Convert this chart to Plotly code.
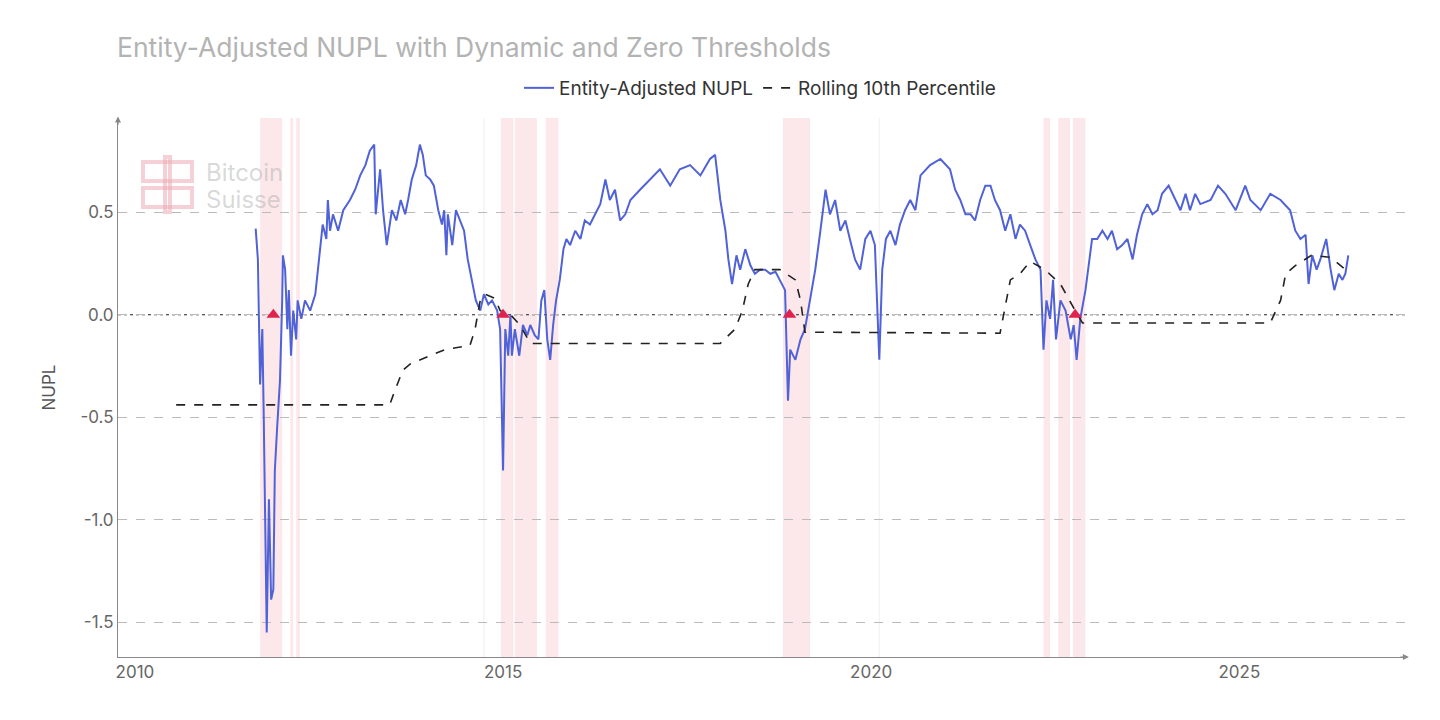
import plotly.graph_objects as go

# NUPL readings: year offset from 2010, value
nupl_off = [1.64,1.67,1.70,1.73,1.75,1.78,1.79,1.82,1.85,1.88,1.90,1.93,1.97,2.00,2.01,2.04,2.07,2.09,2.12,2.15,2.19,2.21,2.26,2.31,2.38,2.45,2.51,2.55,2.60,2.62,2.65,2.69,2.76,2.83,2.92,2.99,3.06,3.13,3.19,3.25,3.27,3.30,3.33,3.37,3.42,3.49,3.55,3.61,3.67,3.71,3.76,3.82,3.87,3.91,3.95,4.01,4.06,4.12,4.17,4.20,4.23,4.25,4.31,4.36,4.42,4.47,4.52,4.58,4.63,4.69,4.74,4.80,4.85,4.92,4.96,5.00,5.03,5.07,5.10,5.12,5.16,5.22,5.27,5.33,5.37,5.43,5.48,5.52,5.56,5.60,5.64,5.68,5.72,5.77,5.82,5.86,5.91,5.98,6.05,6.11,6.18,6.25,6.32,6.39,6.45,6.52,6.59,6.66,6.73,6.86,7.00,7.13,7.27,7.40,7.54,7.68,7.81,7.88,7.95,8.02,8.06,8.11,8.17,8.22,8.29,8.36,8.42,8.49,8.56,8.63,8.70,8.76,8.83,8.87,8.90,8.97,9.04,9.10,9.17,9.24,9.31,9.38,9.44,9.51,9.58,9.65,9.71,9.78,9.85,9.92,9.99,10.05,10.11,10.15,10.20,10.26,10.33,10.39,10.46,10.53,10.60,10.67,10.80,10.94,11.07,11.14,11.21,11.28,11.35,11.41,11.48,11.55,11.62,11.68,11.75,11.82,11.89,11.96,12.02,12.09,12.16,12.23,12.30,12.34,12.38,12.43,12.47,12.51,12.57,12.64,12.71,12.75,12.79,12.84,12.91,12.95,13.00,13.07,13.14,13.21,13.27,13.34,13.41,13.48,13.55,13.61,13.68,13.75,13.82,13.89,13.95,14.04,14.13,14.20,14.27,14.33,14.40,14.47,14.61,14.71,14.81,14.95,15.08,15.15,15.29,15.42,15.56,15.69,15.76,15.83,15.90,15.94,15.99,16.05,16.10,16.18,16.24,16.29,16.35,16.40,16.44,16.48]
nupl_val = [0.42,0.27,-0.34,-0.07,-0.51,-1.20,-1.55,-0.90,-1.39,-1.34,-0.76,-0.56,-0.32,0.07,0.29,0.22,-0.07,0.12,-0.20,0.02,-0.12,0.07,-0.02,0.07,0.02,0.10,0.32,0.44,0.37,0.56,0.41,0.49,0.41,0.51,0.56,0.61,0.68,0.73,0.80,0.83,0.49,0.61,0.71,0.51,0.34,0.51,0.46,0.56,0.49,0.56,0.66,0.73,0.83,0.78,0.68,0.66,0.63,0.51,0.44,0.51,0.29,0.49,0.34,0.51,0.46,0.41,0.27,0.15,0.07,0.02,0.10,0.05,0.07,0.02,-0.07,-0.76,-0.07,-0.20,0.00,-0.20,-0.07,-0.20,-0.05,-0.10,-0.05,-0.10,-0.12,0.07,0.12,-0.12,-0.22,-0.05,0.07,0.17,0.32,0.37,0.34,0.41,0.37,0.46,0.44,0.49,0.54,0.66,0.56,0.61,0.46,0.49,0.56,0.61,0.66,0.71,0.63,0.71,0.73,0.68,0.76,0.78,0.56,0.41,0.27,0.15,0.29,0.22,0.32,0.24,0.20,0.22,0.22,0.20,0.21,0.17,0.12,-0.42,-0.17,-0.22,-0.12,-0.07,0.07,0.22,0.41,0.61,0.49,0.56,0.41,0.46,0.37,0.27,0.22,0.37,0.41,0.34,-0.22,0.22,0.37,0.41,0.34,0.44,0.51,0.56,0.51,0.68,0.73,0.76,0.71,0.61,0.56,0.49,0.49,0.46,0.56,0.63,0.63,0.56,0.51,0.41,0.49,0.37,0.44,0.41,0.34,0.27,0.22,-0.17,0.07,-0.02,0.17,-0.12,0.07,0.02,-0.12,-0.05,-0.22,-0.02,0.12,0.22,0.37,0.37,0.41,0.37,0.41,0.32,0.34,0.37,0.27,0.39,0.49,0.54,0.49,0.51,0.59,0.63,0.56,0.51,0.59,0.51,0.59,0.54,0.56,0.63,0.59,0.51,0.63,0.56,0.51,0.59,0.56,0.51,0.41,0.37,0.39,0.15,0.29,0.22,0.27,0.37,0.22,0.12,0.20,0.17,0.20,0.29]

pct_off = [0.56,3.46,3.53,3.64,3.74,3.87,4.01,4.21,4.55,4.62,4.69,4.76,4.89,4.96,5.10,5.23,5.37,7.95,8.15,8.25,8.33,8.42,8.76,8.97,9.04,9.10,11.75,11.82,11.89,12.02,12.16,12.36,12.57,12.77,12.87,15.42,15.56,15.63,15.76,15.98,16.24,16.44]
pct_val = [-0.44,-0.44,-0.37,-0.27,-0.24,-0.22,-0.20,-0.17,-0.15,-0.07,0.07,0.10,0.08,0.02,0.00,-0.05,-0.14,-0.14,-0.07,0.02,0.15,0.22,0.22,0.17,0.07,-0.085,-0.09,0.05,0.17,0.20,0.26,0.22,0.15,0.02,-0.04,-0.04,0.07,0.20,0.24,0.29,0.28,0.22]

shade_start = [1.70,2.11,2.19,4.97,5.16,5.58,8.80,12.34,12.54,12.74]
shade_end = [2.00,2.15,2.24,5.14,5.46,5.75,9.17,12.43,12.70,12.91]
signal_off = [1.88,5.00,8.89,12.77]

base = 2010
nx = [base + o for o in nupl_off]
px = [base + o for o in pct_off]

fig = go.Figure()
for s, e in zip(shade_start, shade_end):
    fig.add_vrect(x0=base + s, x1=base + e, fillcolor="rgba(240,150,165,0.22)", line_width=0, layer="below")
for g in [4.74, 10.11]:
    fig.add_vline(x=base + g, line=dict(color="rgba(200,200,200,0.3)", width=1), layer="below")

fig.add_trace(go.Scatter(x=nx, y=nupl_val, mode="lines", name="Entity-Adjusted NUPL",
                         line=dict(color="#5062d8", width=2)))
fig.add_trace(go.Scatter(x=px, y=pct_val, mode="lines", name="Rolling 10th Percentile",
                         line=dict(color="#222222", width=1.6, dash="dash")))
fig.add_trace(go.Scatter(x=[base + s for s in signal_off], y=[0]*len(signal_off), mode="markers",
                         marker=dict(symbol="triangle-up", color="#e0234e", size=12), showlegend=False))

fig.add_hline(y=0, line=dict(color="#222", width=1.2, dash="dot"), layer="below")

OFF = 8  # page offset
FW, FH = 1440 - OFF, 720 - OFF
L, T, R, B = 118 - OFF, 118 - OFF, 35, 63
W, H = FW - L - R, FH - T - B

def pp(x, y):
    return (x - OFF - L) / W, 1 - (y - OFF - T) / H

fig.update_layout(
    width=FW, height=FH, paper_bgcolor="white", plot_bgcolor="white",
    margin=dict(l=L, r=R, t=T, b=B),
    font=dict(family="Inter, sans-serif", color="#666", size=17),
    title=dict(text="Entity-Adjusted NUPL with Dynamic and Zero Thresholds", x=(117 - OFF) / FW, xanchor="left",
               y=1 - (48 - OFF) / FH, yanchor="middle", font=dict(size=26.5, color="#b3b3b3")),
    legend=dict(orientation="h", x=pp(760, 88)[0], xanchor="center", y=pp(760, 88)[1], yanchor="middle",
                font=dict(size=19, color="#333")),
    xaxis=dict(range=[2009.77, 2027.25], tickvals=[2010, 2015, 2020, 2025], showgrid=False, automargin=False,
               showline=True, linecolor="#888", ticks="", zeroline=False, tickfont=dict(size=17, color="#666")),
    yaxis=dict(range=[-1.67, 0.96], tickvals=[-1.5, -1.0, -0.5, 0.0, 0.5], automargin=False,
               ticktext=["-1.5", "-1.0", "-0.5", "0.0", "0.5"], showgrid=True,
               gridcolor="#bbbbbb", griddash="dash", gridwidth=1, showline=True, linecolor="#888",
               zeroline=False, title=dict(text="NUPL", font=dict(size=17, color="#555"), standoff=20),
               tickfont=dict(size=17, color="#666")),
    showlegend=True,
)
# axis arrows
fig.add_annotation(x=1.003, y=0, xref="paper", yref="paper", ax=-10, ay=0,
                   showarrow=True, arrowhead=2, arrowsize=1, arrowwidth=1.2, arrowcolor="#888", text="")
fig.add_annotation(x=0, y=1.003, xref="paper", yref="paper", ax=0, ay=10, showarrow=True, arrowhead=2,
                   arrowsize=1, arrowwidth=1.2, arrowcolor="#888", text="")
# watermark logo
pink = "rgba(236,170,180,0.55)"
for (x0, y0, x1, y1) in [(143, 162, 192, 181), (143, 188, 192, 207), (165, 157, 170, 212)]:
    a0, b0 = pp(x0, y0); a1, b1 = pp(x1, y1)
    fig.add_shape(type="rect", xref="paper", yref="paper", x0=a0, y0=b1, x1=a1, y1=b0,
                  line=dict(color=pink, width=4), fillcolor="rgba(0,0,0,0)")
for txt, yy in [("Bitcoin", 172), ("Suisse", 199)]:
    ax_, ay_ = pp(204, yy)
    fig.add_annotation(x=ax_, y=ay_, xref="paper", yref="paper", text=txt, showarrow=False,
                       xanchor="left", yanchor="middle", font=dict(size=24, color="rgba(170,170,170,0.45)"))
a0, yl = pp(0, 4)
a1, _ = pp(1440, 4)
fig.add_shape(type="line", xref="paper", yref="paper", x0=a0, x1=a1, y0=yl, y1=yl,
              line=dict(color="#ddd", width=1))

fig.write_html("out.html")
